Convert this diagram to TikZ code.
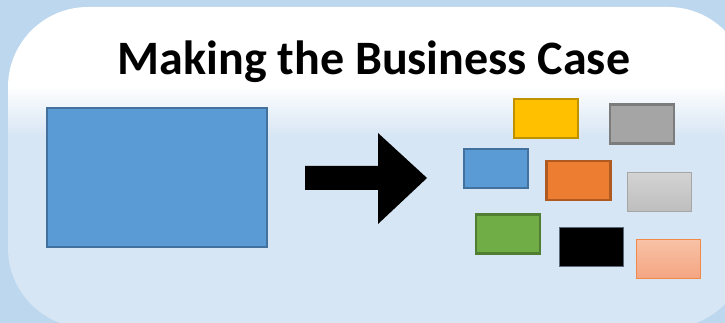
\documentclass[tikz,border=0pt]{standalone}
\usepackage{fontspec}
\setmainfont{Carlito}
\usetikzlibrary{calc}

\definecolor{outerblue}{HTML}{BDD7EE}
\definecolor{panelblue}{HTML}{D7E6F4}
\definecolor{bluefill}{HTML}{5B9BD5}
\definecolor{blueline}{HTML}{41719C}
\definecolor{yellowfill}{HTML}{FFC000}
\definecolor{yellowline}{HTML}{BF9000}
\definecolor{grayfill}{HTML}{A5A5A5}
\definecolor{grayline}{HTML}{7C7C7C}
\definecolor{orangefill}{HTML}{ED7D31}
\definecolor{orangeline}{HTML}{AE5A21}
\definecolor{greenfill}{HTML}{70AD47}
\definecolor{greenline}{HTML}{507E32}
\definecolor{silvertop}{HTML}{D3D3D3}
\definecolor{silverbot}{HTML}{BEBEBE}
\definecolor{silverline}{HTML}{A6A6A6}
\definecolor{salmontop}{HTML}{F8C2A6}
\definecolor{salmonbot}{HTML}{F4A582}
\definecolor{salmonline}{HTML}{F08A4B}
\definecolor{blackline}{HTML}{5A6878}

\tikzset{
  tile/.style={inner sep=0pt, minimum width=64pt, minimum height=39pt, line width=2.4pt},
  bluetile/.style={tile, fill=bluefill, draw=blueline},
  yellowtile/.style={tile, fill=yellowfill, draw=yellowline},
  graytile/.style={tile, fill=grayfill, draw=grayline},
  orangetile/.style={tile, fill=orangefill, draw=orangeline},
  greentile/.style={tile, fill=greenfill, draw=greenline},
  silvertile/.style={tile, line width=1.2pt, top color=silvertop, bottom color=silverbot, draw=silverline},
  blacktile/.style={tile, line width=1pt, fill=black, draw=blackline},
  salmontile/.style={tile, line width=1.2pt, top color=salmontop, bottom color=salmonbot, draw=salmonline},
}

\begin{document}
\begin{tikzpicture}[x=1pt,y=-1pt]
  \useasboundingbox (0,0) rectangle (725,323);
  \fill[outerblue] (0,0) rectangle (725,323);

  % rounded panel, white on top fading to blue
  \begin{scope}
    \clip[rounded corners=80pt] (8,7) rectangle (748,328);
    \fill[white] (0,0) rectangle (760,86);
    \shade[top color=white, bottom color=panelblue] (0,85) rectangle (760,136);
    \fill[panelblue] (0,135) rectangle (760,340);
  \end{scope}

  \node[font=\bfseries\fontsize{48}{48}\selectfont, anchor=base] (title) at (374,75) {Making the Business Case};

  \node[bluetile, minimum width=220pt, minimum height=139pt] (whole) at (157,177.5) {};

  % the arrow
  \coordinate (tail) at (305,178);
  \coordinate (tip) at (427,178);
  \fill (tail) ++(0,-12) -- (378,166) -- (378,133) -- (tip) -- (378,224)
        -- (378,190) -- ($(tail)+(0,12)$) -- cycle;

  \foreach \name/\x/\y/\look in {yellow/546/118.5/yellowtile, gray/642/124/graytile,
      blue/496/168.5/bluetile, orange/578.5/180.5/orangetile, silver/659.5/192/silvertile,
      green/508/234/greentile, black/591.5/247/blacktile, salmon/668.5/259/salmontile} {
    \node[\look] (\name) at (\x,\y) {};
  }
\end{tikzpicture}
\end{document}
